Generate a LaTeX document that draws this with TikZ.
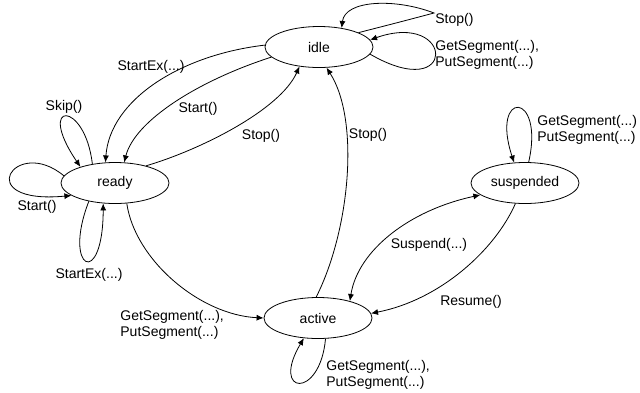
\documentclass[tikz,border=0pt]{standalone}
\usepackage{fontspec}
\setmainfont{Liberation Sans}
\usetikzlibrary{shapes.geometric,arrows.meta}

\begin{document}
\begin{tikzpicture}[x=1pt,y=-1pt,line width=0.8pt,
      >={Latex[length=7pt,width=6pt]},
      state/.style={draw,ellipse,minimum width=108pt,minimum height=41pt,inner sep=0pt,font=\fontsize{14}{16}\selectfont},
      lbl/.style={inner sep=0pt,font=\fontsize{14}{16.5}\selectfont,align=left}]
      \useasboundingbox (0,0) rectangle (640,392);
      % states
      \node[state] (idle) at (319,47) {idle};
      \node[state] (ready) at (115,183) {ready};
      \node[state] (suspended) at (525,183) {suspended};
      \node[state] (active) at (318,318) {active};
      % transitions between states
      \draw[->] (idle.178) .. controls (180,55) and (110,100) .. (ready.115);
      \draw[->] (idle.192) .. controls (200,80) and (135,120) .. (ready.66);
      \draw[->] (ready.29) .. controls (200,150) and (280,110) .. (idle.225);
      \draw[->] (active.95) .. controls (350,230) and (360,120) .. (idle.290);
      \draw[->] (ready.300) .. controls (135,260) and (200,315) .. (active.180);
      \draw[<->] (active.28) .. controls (358,250) and (410,210) .. (suspended.195);
      \draw[->] (suspended.245) .. controls (495,250) and (440,300) .. (active.5);
      % self loops
      \draw[->] (idle.20) .. controls (400,22) .. (434,13) .. controls (395,-2) and (345,0) .. (idle.40);
      \draw[->] (idle.-8) .. controls (458,105) and (455,10) .. (idle.8);
      \draw[->] (ready.140) .. controls (85,100) and (35,100) .. (ready.155);
      \draw[->] (ready.172) .. controls (15,135) and (-30,205) .. (ready.196);
      \draw[->] (ready.215) .. controls (62,270) and (103,290) .. (ready.240);
      \draw[->] (suspended.80) .. controls (545,90) and (490,90) .. (suspended.118);
      \draw[->] (active.290) .. controls (320,400) and (270,395) .. (active.235);
      % labels
      \node[lbl] (lstartex) at (151,67) {StartEx(...)};
      \node[lbl] (lstart) at (198,109) {Start()};
      \node[lbl] (lstopready) at (261,136) {Stop()};
      \node[lbl] (lstopactive) at (368,135) {Stop()};
      \node[lbl,anchor=west] (lstopidle) at (435,20) {Stop()};
      \node[lbl,anchor=west] (lsegidle) at (435,55) {GetSegment(...),\\PutSegment(...)};
      \node[lbl] (lskip) at (64,107) {Skip()};
      \node[lbl] (lstartready) at (37,207) {Start()};
      \node[lbl] (lstartexready) at (89,275) {StartEx(...)};
      \node[lbl,anchor=west] (lsegsusp) at (537,130) {GetSegment(...)\\PutSegment(...)};
      \node[lbl] (lsuspend) at (429,245) {Suspend(...)};
      \node[lbl] (lresume) at (471,302) {Resume()};
      \node[lbl,anchor=west] (lsegready) at (120,325) {GetSegment(...),\\PutSegment(...)};
      \node[lbl,anchor=west] (lsegactive) at (326,375) {GetSegment(...),\\PutSegment(...)};
\end{tikzpicture}
\end{document}
